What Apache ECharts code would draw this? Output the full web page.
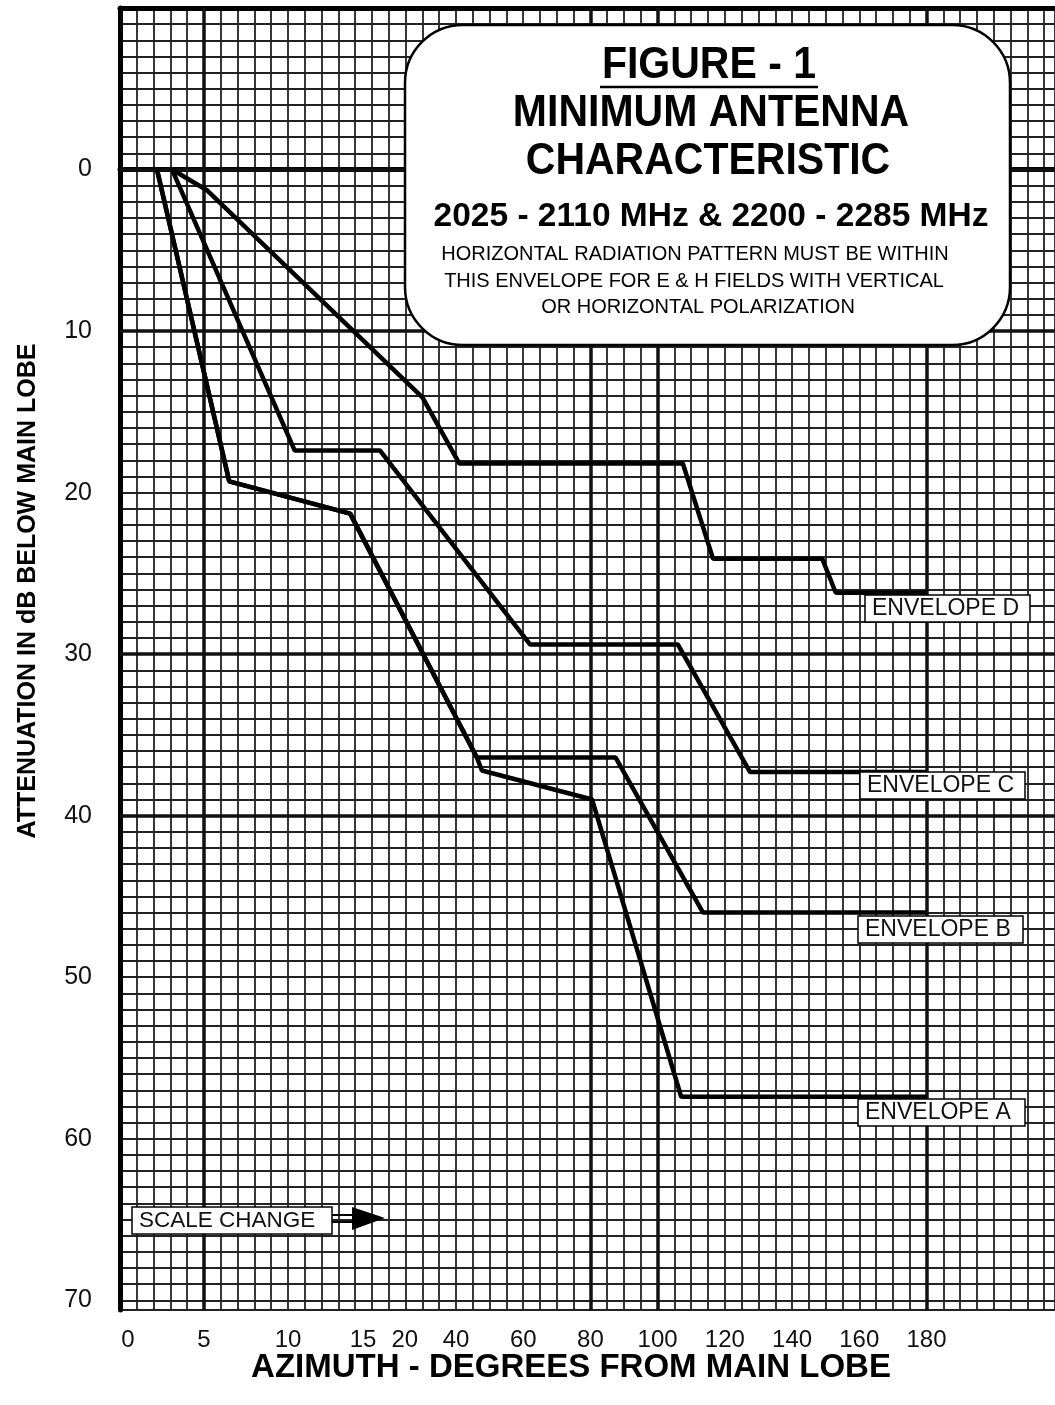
<!DOCTYPE html>
<html>
<head>
<meta charset="utf-8">
<script src="https://cdn.jsdelivr.net/npm/echarts@6/dist/echarts.min.js"></script>
<style>
html, body { margin: 0; padding: 0; background: #fff; }
#chart { width: 1055px; height: 1405px; }
</style>
</head>
<body>
<div id="chart"></div>
<script>
// tick labels
var azimuthTicks = [0, 5, 10, 15, 20, 40, 60, 80, 100, 120, 140, 160, 180];
var attenTicks = [0, 10, 20, 30, 40, 50, 60, 70];

// envelopes, [azimuth in degrees, attenuation in dB]
var envelopeA = [[2.2, 0], [6.5, 19.3], [13.7, 21.3], [46.2, 36.4], [47.7, 37.2], [80.5, 39.0], [107, 57.4], [180, 57.4]];
var envelopeB = [[2.2, 0], [6.5, 19.3], [13.7, 21.3], [46.2, 36.4], [87.5, 36.4], [113.5, 46.0], [180, 46.0]];
var envelopeC = [[3.1, 0], [10.4, 17.4], [17.4, 17.4], [62, 29.4], [106, 29.4], [127.5, 37.3], [180, 37.3]];
var envelopeD = [[3.1, 0], [5.2, 1.3], [30, 14.1], [41, 18.2], [107.5, 18.2], [116.5, 24.1], [149, 24.1], [153, 26.2], [180, 26.2]];

// heavy rulings of the graph paper
var heavyAzimuth = [5, 80, 100, 180];
var heavyAtten = [0, 10, 30, 40];

// scale change at 15 deg: one square = 1 deg below, 5 deg above
function toScale(deg) {
    return deg <= 15 ? deg : 12 + deg / 5;
}
function scaled(pts) {
    return pts.map(function (p) { return [toScale(p[0]), p[1]]; });
}

var FONT = '"Liberation Sans", Arial, sans-serif';

function envSeries(name, pts) {
    return {
        name: name, type: 'line', data: scaled(pts),
        symbol: 'none', silent: true, z: 5,
        lineStyle: { color: '#000', width: 4.5 }
    };
}

var series = [
    envSeries('Envelope A', envelopeA),
    envSeries('Envelope B', envelopeB),
    envSeries('Envelope C', envelopeC),
    envSeries('Envelope D', envelopeD)
];
series[0].markLine = {
    silent: true, symbol: 'none', animation: false,
    label: { show: false },
    lineStyle: { color: '#111', width: 3.5, type: 'solid' },
    data: heavyAzimuth.map(function (d) { return { xAxis: toScale(d) }; })
        .concat(heavyAtten.map(function (v) { return { yAxis: v }; }))
};

function labelBox(x, y, w, txt, size) {
    return [
        { type: 'rect', z: 100, shape: { x: x, y: y, width: w, height: 27 },
          style: { fill: '#fff', stroke: '#000', lineWidth: 1.5 } },
        { type: 'text', z: 101, x: x + 7, y: y + 14,
          style: { text: txt, font: size + 'px ' + FONT, fill: '#111', textAlign: 'left', textVerticalAlign: 'middle' } }
    ];
}

function centerText(txt, x, y, font, sy) {
    return { type: 'text', x: x, y: y, z: 101, scaleY: sy || 1,
        style: { text: txt, font: font, fill: '#000', textAlign: 'center', textVerticalAlign: 'middle' } };
}

var graphics = [
    // title panel
    { type: 'rect', z: 100, shape: { x: 405, y: 25, width: 605, height: 320, r: 58 },
      style: { fill: '#fff', stroke: '#000', lineWidth: 2.5 } },
    centerText('FIGURE - 1', 709, 66, 'bold 41px ' + FONT, 1.08),
    { type: 'line', z: 101, shape: { x1: 600, y1: 87, x2: 818, y2: 87 },
      style: { stroke: '#000', lineWidth: 2.5 } },
    centerText('MINIMUM ANTENNA', 711, 114, 'bold 41px ' + FONT, 1.08),
    centerText('CHARACTERISTIC', 708, 162, 'bold 41px ' + FONT, 1.08),
    centerText('2025 - 2110 MHz & 2200 - 2285 MHz', 711, 217, 'bold 33.5px ' + FONT),
    centerText('HORIZONTAL RADIATION PATTERN MUST BE WITHIN', 695, 254, '20px ' + FONT),
    centerText('THIS ENVELOPE FOR E & H FIELDS WITH VERTICAL', 694, 281, '20px ' + FONT),
    centerText('OR HORIZONTAL POLARIZATION', 698, 307, '20px ' + FONT),
    // scale change arrow
    { type: 'line', z: 100, shape: { x1: 332, y1: 1215, x2: 356, y2: 1215 }, style: { stroke: '#000', lineWidth: 2 } },
    { type: 'line', z: 100, shape: { x1: 332, y1: 1222, x2: 356, y2: 1222 }, style: { stroke: '#000', lineWidth: 2 } },
    { type: 'polygon', z: 100, shape: { points: [[352, 1207], [385, 1218], [352, 1230]] }, style: { fill: '#000' } },
    // axis titles
    { type: 'text', x: 28, y: 591, rotation: Math.PI / 2, z: 100,
      style: { text: 'ATTENUATION IN dB BELOW MAIN LOBE', font: 'bold 25px ' + FONT, fill: '#000',
               textAlign: 'center', textVerticalAlign: 'middle' } },
    centerText('AZIMUTH - DEGREES FROM MAIN LOBE', 571, 1368, 'bold 33px ' + FONT)
].concat(
    labelBox(865, 595, 165, 'ENVELOPE D', 23),
    labelBox(860, 772, 165, 'ENVELOPE C', 23),
    labelBox(858, 916, 165, 'ENVELOPE B', 23),
    labelBox(858, 1099, 167, 'ENVELOPE A', 23),
    labelBox(132, 1207, 200, 'SCALE CHANGE', 22.5)
);

var option = {
    animation: false,
    backgroundColor: '#fff',
    grid: { left: 120, top: 8, right: 0, bottom: 95 },
    xAxis: [{
        type: 'value', min: 0, max: 55.65, interval: 1,
        axisLine: { show: true, lineStyle: { color: '#000', width: 5 } },
        axisTick: { show: false },
        splitLine: { show: true, lineStyle: { color: '#222', width: 1.8 } },
        axisLabel: {
            customValues: azimuthTicks.map(toScale),
            margin: 18, color: '#111', fontSize: 24, fontFamily: FONT,
            formatter: function (v) {
                var deg = azimuthTicks.filter(function (d) { return Math.abs(toScale(d) - v) < 1e-6; })[0];
                if (deg === 0) return '{r|0}';
                if (deg === 15) return '{l|15}';
                if (deg === 20) return '{rr|20}';
                return String(deg);
            },
            rich: {
                r: { fontSize: 24, fontFamily: FONT, color: '#111', padding: [0, 0, 0, 16] },
                l: { fontSize: 24, fontFamily: FONT, color: '#111', padding: [0, 18, 0, 0] },
                rr: { fontSize: 24, fontFamily: FONT, color: '#111', padding: [0, 0, 0, 32] }
            }
        }
    }, {
        type: 'value', position: 'top', min: 0, max: 55.65,
        axisLine: { show: true, lineStyle: { color: '#000', width: 5 } },
        axisTick: { show: false }, axisLabel: { show: false }, splitLine: { show: false }
    }],
    yAxis: {
        type: 'value', inverse: true, min: -10, max: 70.6, interval: 1,
        axisLine: { show: true, lineStyle: { color: '#000', width: 5 } },
        axisTick: { show: false },
        splitLine: { show: true, lineStyle: { color: '#222', width: 1.8 } },
        axisLabel: {
            customValues: attenTicks,
            margin: 28, color: '#111', fontSize: 25, fontFamily: FONT
        }
    },
    series: series,
    graphic: graphics
};

var myChart = echarts.init(document.getElementById('chart'));
myChart.setOption(option);
</script>
</body>
</html>
